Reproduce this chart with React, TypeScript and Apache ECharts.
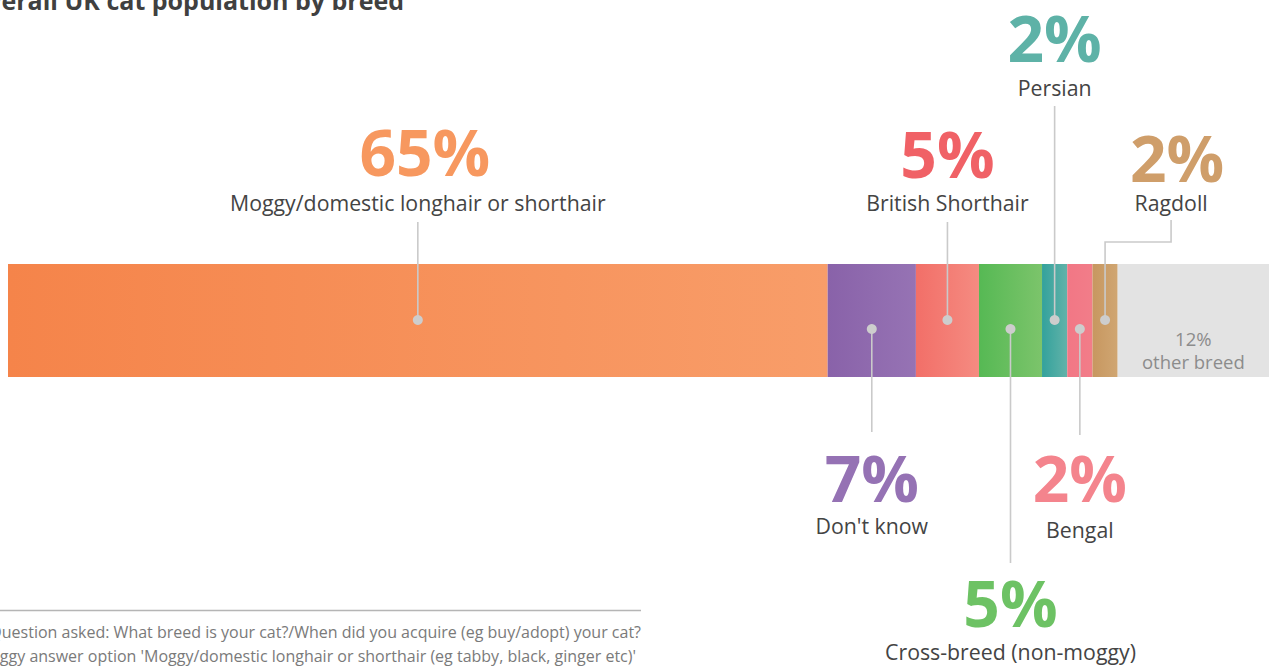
import React, { useEffect, useRef } from "react";
import * as echarts from "echarts";

const breeds = [
  "Moggy/domestic longhair or shorthair",
  "Don't know",
  "British Shorthair",
  "Cross-breed (non-moggy)",
  "Persian",
  "Bengal",
  "Ragdoll",
  "other breed",
];
const shares = [65, 7, 5, 5, 2, 2, 2, 12];
const barLeftColors = ["#F5844A", "#8962A9", "#F26F68", "#56B954", "#33A29C", "#F27785", "#C79760", "#E3E3E3"];
const barRightColors = ["#F89D69", "#9673B4", "#F58B81", "#7CC46B", "#62B2A9", "#F27D89", "#D0A672", "#E3E3E3"];
const pctColors = ["#F7985F", "#9572B4", "#F06166", "#6DC264", "#5EB2A7", "#F4848D", "#CF9E6A", "#8C8C8C"];
const pctShadowColors = ["#E07A40", "#7653A0", "#D64C54", "#4EA64A", "#35968E", "#E0687A", "#B88750", "#777777"];

const titleText = "Overall UK cat population by breed";
const footnoteLines = [
  "Question asked: What breed is your cat?/When did you acquire (eg buy/adopt) your cat?",
  "*Moggy answer option 'Moggy/domestic longhair or shorthair (eg tabby, black, ginger etc)'",
];

// callout layout (pixel positions of labels), one per segment; null = label inside bar
const callouts: any[] = [
  { side: "top", pctY: 151, nameY: 202, lineEnd: 222, dx: 0, pctDx: 7 },
  { side: "bottom", pctY: 477, nameY: 525, lineEnd: 432, dx: 0 },
  { side: "top", pctY: 153, nameY: 202, lineEnd: 222, dx: 0 },
  { side: "bottom", pctY: 602, nameY: 651, lineEnd: 563, dx: 0 },
  { side: "top", pctY: 37, nameY: 87, lineEnd: 106, dx: 0 },
  { side: "bottom", pctY: 477, nameY: 529, lineEnd: 435, dx: 0 },
  { side: "top", pctY: 157, nameY: 202, lineEnd: 220, dx: 66, elbowY: 242, pctDx: 6 },
  null,
];

const FONT = "'Open Sans', 'Noto Sans', sans-serif";

export default function App() {
  const ref = useRef<HTMLDivElement>(null);
  useEffect(() => {
    const chart = echarts.init(ref.current as HTMLDivElement, null, { renderer: "svg" });
    const last = shares.length - 1;
    const series = shares.map((v, i) => ({
      type: "bar",
      name: breeds[i],
      stack: "total",
      barWidth: 113,
      data: [v],
      silent: true,
      emphasis: { disabled: true },
      itemStyle: {
        color: new echarts.graphic.LinearGradient(0, 0, 1, 0, [
          { offset: 0, color: barLeftColors[i] },
          { offset: 1, color: barRightColors[i] },
        ]),
      },
      label:
        i === last
          ? {
              show: true,
              position: "inside",
              offset: [0, 29],
              formatter: () => `${shares[i]}%\n${breeds[i]}`,
              color: pctColors[i],
              fontFamily: FONT,
              fontSize: 18.5,
              lineHeight: 23,
            }
          : { show: false },
    }));
    chart.setOption({
      animation: false,
      grid: { left: 8, right: 0, top: 264, height: 113 },
      xAxis: { type: "value", min: 0, max: 100, show: false },
      yAxis: { type: "category", data: ["UK"], show: false },
      series,
    });

    const yc = chart.convertToPixel({ yAxisIndex: 0 }, "UK") as number;
    const elements: any[] = [];
    const lineStyle = { stroke: "#CACACA", lineWidth: 1.6 };
    let cum = 0;
    shares.forEach((v, i) => {
      const x = chart.convertToPixel({ xAxisIndex: 0 }, cum + v / 2) as number;
      cum += v;
      const c = callouts[i];
      if (!c) return;
      const dotY = c.side === "top" ? yc - 0.5 : yc + 8.5;
      const lx = x + c.dx;
      if (c.elbowY) {
        elements.push({
          type: "polyline",
          z: 100,
          shape: { points: [[lx, c.lineEnd], [lx, c.elbowY], [x, c.elbowY], [x, dotY]] },
          style: { ...lineStyle, fill: null },
        });
      } else {
        elements.push({
          type: "line",
          z: 100,
          shape: { x1: x, y1: c.lineEnd, x2: x, y2: dotY },
          style: lineStyle,
        });
      }
      elements.push({
        type: "circle",
        z: 101,
        shape: { cx: x, cy: dotY, r: 5 },
        style: { fill: "#CDCDCD" },
      });
      elements.push({
        type: "text",
        z: 102,
        x: lx + (c.pctDx || 0),
        y: c.pctY,
        style: {
          text: `${v}%`,
          fill: pctColors[i],
          font: `bold 64px ${FONT}`,
          lineHeight: 50,
          textAlign: "center",
          textVerticalAlign: "middle",
          textShadowColor: pctShadowColors[i],
          textShadowOffsetX: 1.5,
          textShadowOffsetY: 1.5,
          textShadowBlur: 0,
        },
      });
      elements.push({
        type: "text",
        z: 102,
        x: lx,
        y: c.nameY,
        style: {
          text: breeds[i],
          fill: "#444444",
          font: `21.3px ${FONT}`,
          lineHeight: 22,
          textAlign: "center",
          textVerticalAlign: "middle",
        },
      });
    });

    elements.push({
      type: "text",
      x: 404,
      y: 0,
      style: {
        text: titleText,
        fill: "#404040",
        font: `bold 25px ${FONT}`,
        textAlign: "right",
        textVerticalAlign: "middle",
      },
    });
    elements.push({
      type: "line",
      shape: { x1: 0, y1: 610.5, x2: 641, y2: 610.5 },
      style: { stroke: "#B5B5B5", lineWidth: 1.5 },
    });
    footnoteLines.forEach((t, k) => {
      elements.push({
        type: "text",
        x: k === 0 ? 641 : 636,
        y: k === 0 ? 632 : 656,
        style: {
          text: t,
          fill: "#7A7A7A",
          font: `16px ${FONT}`,
          textAlign: "right",
          textVerticalAlign: "middle",
        },
      });
    });

    chart.setOption({ graphic: elements });
    return () => chart.dispose();
  }, []);
  return (
    <div
      ref={ref}
      style={{ position: "absolute", left: 0, top: 0, width: 1269, height: 666 }}
    />
  );
}
